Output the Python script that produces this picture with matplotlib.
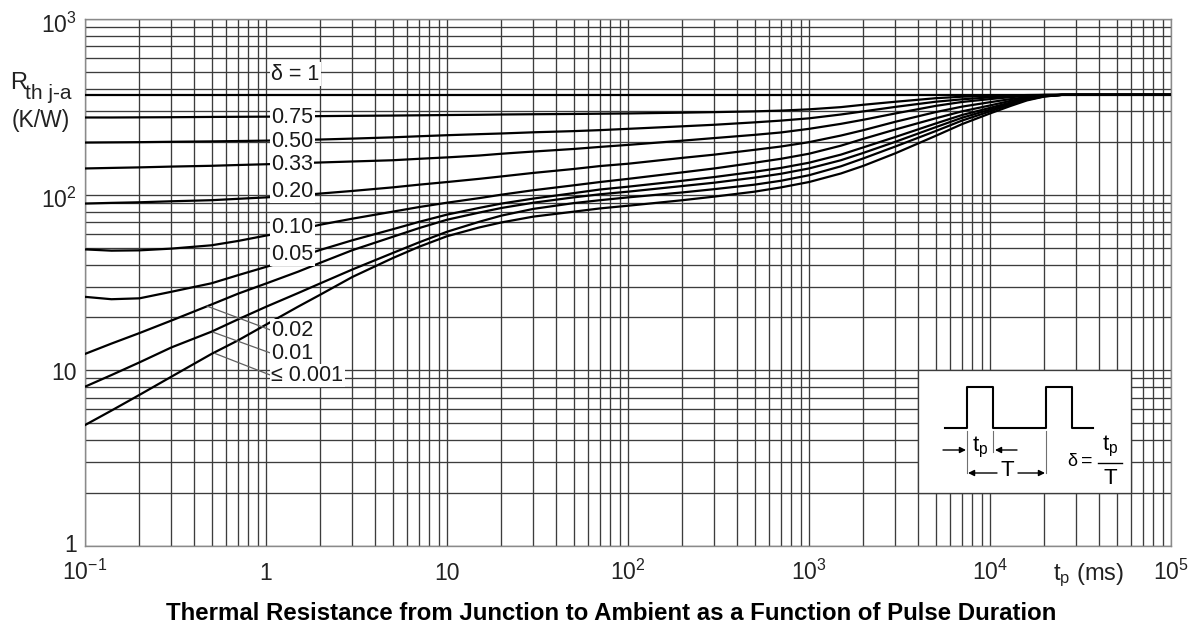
import numpy as np
import matplotlib.pyplot as plt
from matplotlib.patches import Rectangle
from matplotlib.ticker import LogLocator, NullFormatter

plt.rcParams['font.family'] = ['Liberation Sans', 'DejaVu Sans']
plt.rcParams['mathtext.fontset'] = 'custom'
plt.rcParams['mathtext.rm'] = 'Liberation Sans'
plt.rcParams['mathtext.it'] = 'Liberation Sans'
plt.rcParams['mathtext.bf'] = 'Liberation Sans:bold'

# pulse duration (ms) where the curves were read
tp_ms = [0.1, 0.14, 0.2, 0.3, 0.5, 0.7, 1, 1.5, 2, 3, 5, 7, 10, 15, 20, 30, 50, 70,
         100, 200, 300, 500, 700, 1000, 1500, 2000, 3000, 5000, 7000, 10000,
         13000, 16000, 20000, 25000, 100000]

# thermal resistance (K/W) for each duty cycle
rth_075 = [275, 275, 275.5, 276, 277, 277.5, 278, 279, 280, 281, 282, 283, 284, 285,
           286, 287, 288, 289, 290, 293, 295, 298, 301, 306, 315, 325, 338, 354,
           361, 365, 367.5, 369, 370, 370, 370]
rth_050 = [198, 198.5, 199, 200, 201, 202, 203, 205, 206, 208.5, 212, 215, 218, 221,
           223, 226.5, 230, 233, 237, 245, 250, 258, 264, 272, 286, 298, 316, 338,
           349, 358, 364, 367, 369.5, 370, 370]
rth_033 = [141, 142, 143, 144.5, 146, 147.5, 149, 151, 152.5, 154.5, 157, 160, 163,
           167, 171, 176, 182, 187, 192, 203, 210, 219, 226, 237, 253, 267, 290,
           320, 337, 350, 359, 365, 369, 370, 370]
rth_020 = [89, 89.8, 90.5, 91.7, 93, 94.7, 96.5, 99, 101.5, 105, 110, 114, 118, 123,
           127, 133, 140, 145.5, 150, 162, 169, 180, 188, 199, 217, 233, 260, 295,
           317, 336, 350, 359, 367, 370, 370]
rth_010 = [48.8, 48.0, 48.2, 49.3, 51.5, 54.5, 58.5, 63, 67.5, 73, 80, 85, 90, 95.5,
           100, 106, 113, 118, 123, 134, 141, 152, 160, 171, 190, 208, 235, 272,
           298, 322, 342, 356, 366, 370, 370]
rth_005 = [26.2, 25.4, 25.7, 28.0, 31.3, 34.8, 38.8, 44, 48.5, 55, 63.5, 70, 77, 84,
           89, 95, 102, 107, 111, 120, 126, 135, 142, 152, 169, 186, 213, 254, 284,
           312, 335, 353, 365, 370, 370]
rth_002 = [12.4, 14.2, 16.3, 19.2, 23.7, 27.3, 31.2, 36.4, 41, 48.3, 57.5, 64.5, 72,
           79, 84, 90, 96.5, 100.5, 104, 112, 117, 125, 131.5, 141, 157, 173, 200,
           242, 274, 305, 330, 349, 364, 370, 370]
rth_001 = [8.07, 9.4, 11.1, 13.5, 16.6, 19.5, 23, 27.5, 31.3, 37.5, 46.5, 53.5, 61.5,
           70, 76, 83, 89.5, 93, 96.5, 103, 107.5, 114, 120, 129, 145, 161, 188,
           230, 264, 298, 326, 347, 363, 370, 370]
rth_0001 = [4.88, 5.9, 7.25, 9.2, 12.4, 14.8, 18.2, 23, 27, 34, 43.5, 50.5, 58, 65,
            69.5, 75, 80, 83.5, 86.5, 93, 97.5, 104, 110, 118, 132, 146, 172, 216,
            252, 290, 320, 344, 362, 370, 370]

# delta = 1 is the steady-state line
tp_dc = [0.1, 100000]
rth_dc = [370, 370]

curves = [rth_075, rth_050, rth_033, rth_020, rth_010, rth_005,
          rth_002, rth_001, rth_0001]

# curve labels and where they sit (t in ms, R in K/W)
label_text = ['δ = 1', '0.75', '0.50', '0.33', '0.20', '0.10', '0.05',
              '0.02', '0.01', '≤ 0.001']
label_r = [486, 276, 202, 149, 104, 65.4, 45.9, 16.9, 12.5, 9.35]
label_t = 1.07

# leader lines for the three lowest curves
leader_t = [0.472, 0.509, 0.52]
leader_r = [23.2, 16.5, 12.5]

xticks = [0.1, 1, 10, 100, 1000, 10000, 100000]
xtick_labels = [r'$\mathregular{10^{-1}}$', '1', '10', r'$\mathregular{10^{2}}$',
                r'$\mathregular{10^{3}}$', r'$\mathregular{10^{4}}$',
                r'$\mathregular{10^{5}}$']
yticks = [1, 10, 100, 1000]
ytick_labels = ['1', '10', r'$\mathregular{10^{2}}$', r'$\mathregular{10^{3}}$']
ytick_baseline_px = [6, 10, 13.5, 14]   # how far below its grid line each label sits

W, H = 1196, 632
fig = plt.figure(figsize=(W / 100, H / 100), dpi=100)
ax = fig.add_axes([85 / W, 1 - 546 / H, (1171 - 85) / W, (546 - 19) / H])
ax.set_xscale('log')
ax.set_yscale('log')
ax.set_xlim(0.1, 1e5)
ax.set_ylim(1, 1000)

grid_col = '#3c3c3c'
txt_col = '#222222'
ax.xaxis.set_minor_locator(LogLocator(base=10, subs=np.arange(2, 10), numticks=100))
ax.yaxis.set_minor_locator(LogLocator(base=10, subs=np.arange(2, 10), numticks=100))
ax.xaxis.set_minor_formatter(NullFormatter())
ax.yaxis.set_minor_formatter(NullFormatter())
ax.set_axisbelow(True)
ax.grid(which='both', color=grid_col, lw=0.95)
ax.tick_params(which='both', length=0)
for s in ax.spines.values():
    s.set_color('#8a8a8a')
    s.set_linewidth(1.0)

ax.set_xticks(xticks)
ax.set_xticklabels([])
ax.set_yticks(yticks)
ax.set_yticklabels([])
for t, lab in zip(xticks, xtick_labels):
    ax.text(t, -(580 - 546) / 527, lab, transform=ax.get_xaxis_transform(),
            ha='center', va='baseline', fontsize=16.5, color=txt_col)
for r, lab, off in zip(yticks, ytick_labels, ytick_baseline_px):
    ax.annotate(lab, xy=(0, r), xycoords=('axes fraction', 'data'),
                xytext=(-8, -off), textcoords='offset pixels',
                ha='right', va='baseline', fontsize=16.5, color=txt_col)

ax.plot(tp_dc, rth_dc, color='black', lw=1.6, zorder=3)
for vals in curves:
    ax.plot(tp_ms, vals, color='black', lw=1.6, zorder=3, solid_joinstyle='round')

for t0, r0, r1 in zip(leader_t, leader_r, label_r[7:]):
    ax.annotate('', xy=(t0, r0), xytext=(label_t, r1),
                arrowprops=dict(arrowstyle='-', color='#606060', lw=0.9,
                                shrinkA=0, shrinkB=0), zorder=4)

for txt, r in zip(label_text, label_r):
    ax.text(label_t, r, txt, ha='left', va='center', fontsize=15.5, color='#1a1a1a',
            bbox=dict(boxstyle='square,pad=0.06', fc='white', ec='none'), zorder=5)

# white box holding the pulse sketch
ax.add_patch(Rectangle((4000, 2), 56000, 8, fc='white', ec=grid_col, lw=0.95, zorder=1))

ins = fig.add_axes([918 / W, 1 - 492 / H, 212 / W, 122 / H])
ins.set_xlim(918, 1130)
ins.set_ylim(492, 370)
ins.axis('off')
ins.plot([945, 967, 967, 993, 993, 1046, 1046, 1072, 1072, 1093],
         [428, 428, 387, 387, 428, 428, 387, 387, 428, 428], color='black', lw=1.5)
for xv, y1 in [(967, 473), (993, 452), (1046, 473)]:
    ins.plot([xv, xv], [431, y1], color='#707070', lw=0.8)
arr = dict(arrowstyle='-|>', color='black', lw=1.0, mutation_scale=9, shrinkA=0, shrinkB=0)
ins.annotate('', xy=(966, 450), xytext=(943, 450), arrowprops=arr)
ins.annotate('', xy=(995, 450), xytext=(1017, 450), arrowprops=arr)
ins.annotate('', xy=(968, 473), xytext=(997, 473), arrowprops=arr)
ins.annotate('', xy=(1045, 473), xytext=(1018, 473), arrowprops=arr)
ins.text(980, 447, r'$\mathregular{t_p}$', ha='center', va='center', fontsize=16)
ins.text(1007, 471, 'T', ha='center', va='center', fontsize=16)
ins.text(1072, 462, 'δ', ha='center', va='center', fontsize=13)
ins.text(1087, 461, '=', ha='center', va='center', fontsize=14)
ins.text(1110, 446, r'$\mathregular{t_p}$', ha='center', va='center', fontsize=16)
ins.plot([1098, 1122], [463, 463], color='black', lw=1.0)
ins.text(1110, 479, 'T', ha='center', va='center', fontsize=16)

# axis captions
fig.text(10 / W, 1 - 89 / H, 'R', fontsize=17, color=txt_col, va='baseline')
fig.text(25 / W, 1 - 99 / H, 'th j-a', fontsize=15, color=txt_col, va='baseline')
fig.text(41 / W, 1 - 121 / H, '(K/W)', fontsize=16.5, color=txt_col, ha='center', va='center')
fig.text(1089 / W, 1 - 580 / H, r'$\mathregular{t_p}$ (ms)', fontsize=17, color=txt_col,
         ha='center', va='baseline')

fig.text(611 / W, 1 - 613 / H,
         'Thermal Resistance from Junction to Ambient as a Function of Pulse Duration',
         fontsize=17.3, fontweight='bold', ha='center', va='center')

fig.savefig('out.png', dpi=100)
